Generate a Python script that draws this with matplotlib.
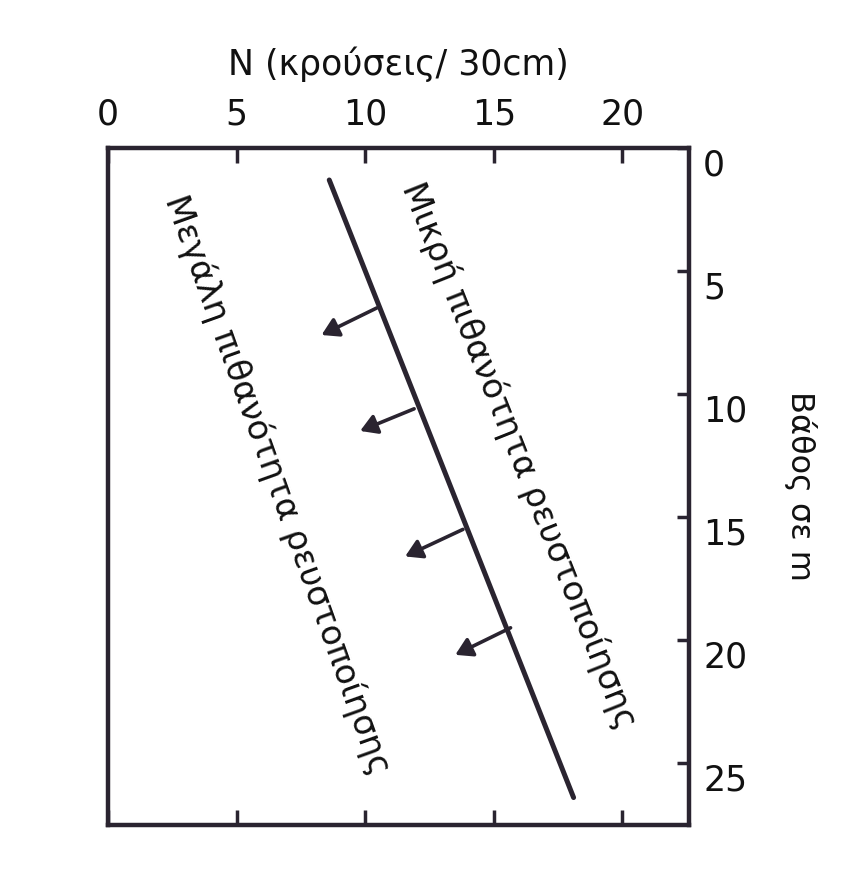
import matplotlib
matplotlib.use('Agg')
import matplotlib.pyplot as plt
import matplotlib.transforms as mtrans

# ── Data ─────────────────────────────────────────────────────────────────────
x_ticks = [0, 5, 10, 15, 20]
depth_ticks = [0, 5, 10, 15, 20, 25]

line_n = [8.6, 18.1]          # boundary line, N value
line_depth = [1.3, 26.4]      # boundary line, depth (m)

arrow_n_start = [10.45, 11.9, 13.8, 15.65]
arrow_d_start = [6.5, 10.6, 15.5, 19.5]
arrow_n_end = [8.3, 9.8, 11.55, 13.5]
arrow_d_end = [7.6, 11.5, 16.6, 20.6]

INK = '#2a2430'
FS = 25

fig = plt.figure(figsize=(8.51, 8.81), dpi=100)
fig.patch.set_facecolor('white')
ax = fig.add_axes([0.127, 0.064, 0.683, 0.768])
ax.set_xlim(0, 22.6)
ax.set_ylim(27.5, 0)

for s in ax.spines.values():
    s.set_linewidth(3.2)
    s.set_color(INK)

# top axis with labels, bottom ticks only
ax.xaxis.set_ticks_position('both')
ax.xaxis.set_label_position('top')
ax.set_xticks(x_ticks)
ax.tick_params(axis='x', direction='in', length=11, width=2.5, color=INK,
               labeltop=True, labelbottom=False, labelsize=FS, pad=12,
               labelcolor='#111111')

# right depth axis
ax.yaxis.set_ticks_position('right')
ax.yaxis.set_label_position('right')
ax.set_yticks(depth_ticks)
ax.tick_params(axis='y', direction='in', length=9, width=2.5, color=INK,
               labelright=True, labelleft=False, labelsize=FS, pad=10,
               labelcolor='#111111')
off = mtrans.ScaledTranslation(0, -10 / 72, fig.dpi_scale_trans)
for lab in ax.get_yticklabels():
    lab.set_transform(lab.get_transform() + off)

ax.set_xlabel('N (κρούσεις/ 30cm)', fontsize=FS, labelpad=16, color='#111111')
ax.set_ylabel('Βάθος σε m', fontsize=23, rotation=-90, labelpad=50,
              color='#111111')

# boundary line
ax.plot(line_n, line_depth, color=INK, lw=3.6, solid_capstyle='round')

# arrows pointing towards high liquefaction potential
for xs, ys, xe, ye in zip(arrow_n_start, arrow_d_start, arrow_n_end, arrow_d_end):
    ax.annotate('', xy=(xe, ye), xytext=(xs, ys),
                arrowprops=dict(arrowstyle='-|>,head_width=0.6,head_length=1.0',
                                color=INK, lw=2.6, shrinkA=0, shrinkB=0))

ax.text(16.0, 12.5, 'Μικρή πιθανότητα ρευστοποίησης', rotation=-68.3,
        rotation_mode='anchor', ha='center', va='center', fontsize=24.5,
        color='#111111')
ax.text(6.6, 13.7, 'Μεγάλη πιθανότητα ρευστοποίησης', rotation=-70.3,
        rotation_mode='anchor', ha='center', va='center', fontsize=24.5,
        color='#111111')

plt.savefig('out.png', dpi=100, facecolor='white')
plt.close()
